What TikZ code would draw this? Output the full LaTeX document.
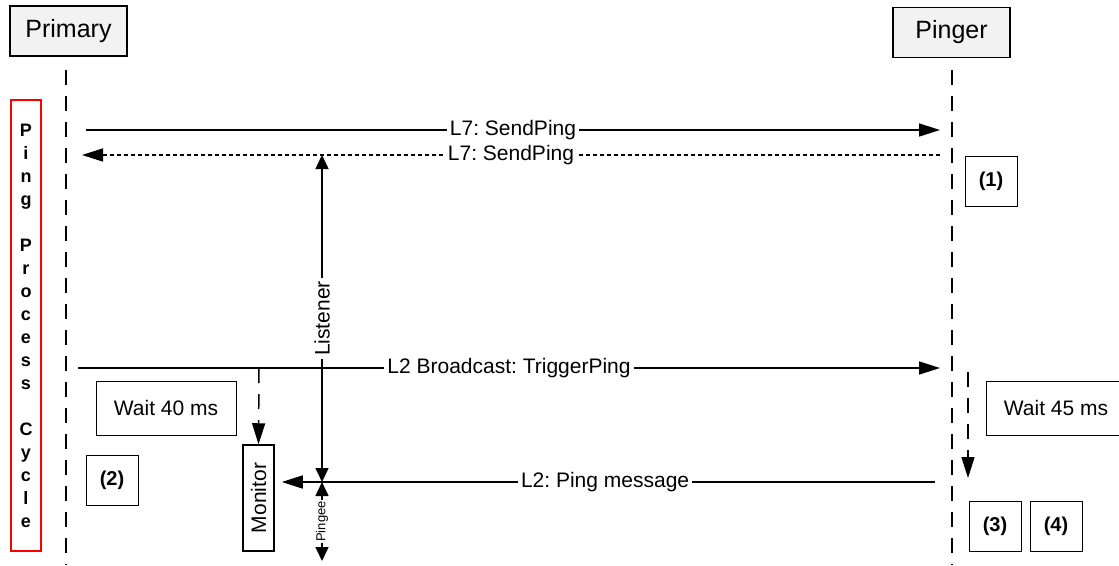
\documentclass[tikz,border=0pt]{standalone}
\usepackage{fontspec}
\setmainfont{Liberation Sans}
\usetikzlibrary{arrows.meta}
\frenchspacing
\begin{document}
\begin{tikzpicture}[x=1pt,y=-1pt]
  \tikzstyle{head}=[draw,line width=1.5pt,fill=black!5,minimum width=117pt,minimum height=50pt,font=\fontsize{25}{29}\selectfont]
  \tikzstyle{life}=[line width=1.5pt,dash pattern=on 15pt off 11pt]
  \tikzstyle{msg}=[line width=1.5pt,-{Triangle[length=21pt,width=13pt]}]
  \tikzstyle{both}=[line width=1.5pt,{Triangle[length=14pt,width=13pt]}-{Triangle[length=14pt,width=13pt]}]
  \tikzstyle{lbl}=[fill=white,inner sep=3pt,font=\fontsize{21}{25}\selectfont]
  \tikzstyle{box}=[draw,line width=1pt,font=\fontsize{21}{25}\selectfont]
  \tikzstyle{num}=[box,font=\fontsize{20}{24}\selectfont\bfseries,minimum width=52pt,minimum height=50pt]
  \tikzstyle{wait}=[box,minimum width=140pt,minimum height=54pt]
  \useasboundingbox (0,0) rectangle (1119,565);
  \node[head] (primary) at (68.5,31) {Primary};
  \node[head] (pinger) at (951.5,32.5) {Pinger};
  \draw[life] (66,70) -- (66,565);
  \draw[life] (952,70) -- (952,565);
  \node[draw=red,line width=1.3pt,minimum width=30pt,minimum height=451pt,align=center,
        font=\fontsize{18}{23}\selectfont\bfseries] (cycle) at (26,325.5)
        {P\\i\\n\\g\\[23pt]P\\r\\o\\c\\e\\s\\s\\[23pt]C\\y\\c\\l\\e};
  \node[box,rotate=90,line width=1.5pt,minimum width=106pt,minimum height=31pt] (monitor) at (258.5,498) {Monitor};
  \node[wait] (wait40) at (166,408) {Wait 40 ms};
  \node[wait] (wait45) at (1056,408) {Wait 45 ms};
  \node[num] (n1) at (991,181) {(1)};
  \node[num] (n2) at (112,480) {(2)};
  \node[num] (n3) at (995,526) {(3)};
  \node[num] (n4) at (1056,526) {(4)};
  \coordinate (send a) at (86,130);
  \coordinate (send b) at (940,130);
  \coordinate (back a) at (940,155);
  \coordinate (back b) at (82,155);
  \coordinate (trig a) at (78,368);
  \coordinate (trig b) at (940,368);
  \coordinate (trig m) at (259,368);
  \coordinate (ping a) at (935,482);
  \coordinate (listen) at (322,155);
  \coordinate (junction) at (322,482);
  \coordinate (pingee) at (322,561);
  \coordinate (wait a) at (968,372);
  \coordinate (wait b) at (968,478);
  \draw[msg] (send a) -- node[lbl] {L7: SendPing} (send b);
  \draw[msg,dash pattern=on 4pt off 3pt] (back a) -- node[lbl] {L7: SendPing} (back b);
  \draw[msg] (trig a) -- node[lbl] {L2 Broadcast: TriggerPing} (trig b);
  \draw[msg,dash pattern=on 15pt off 11pt] (trig m) -- (monitor.east);
  \draw[msg] (ping a) -- node[lbl,pos=0.505] {L2: Ping message} ([xshift=7pt]ping a -| monitor.south);
  \draw[both] (junction) -- node[lbl,rotate=90] {Listener} (listen);
  \draw[both] (junction) -- node[fill=white,inner sep=1pt,rotate=90,font=\fontsize{13}{15}\selectfont] {Pingee} (pingee);
  \draw[msg,dash pattern=on 15pt off 11pt] (wait a) -- (wait b);
\end{tikzpicture}
\end{document}
